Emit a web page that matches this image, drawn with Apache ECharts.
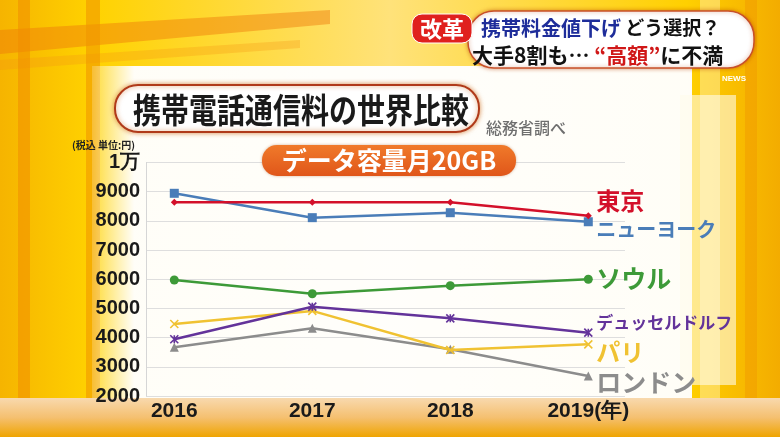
<!DOCTYPE html>
<html><head><meta charset="utf-8">
<script src="https://cdn.jsdelivr.net/npm/echarts@6/dist/echarts.min.js"></script>
<style>html,body{margin:0;padding:0;background:#f9c80e}#c{width:780px;height:437px}</style>
</head><body><div id="c"></div>
<script>
// ---- data ----
const years = [2016, 2017, 2018, 2019];
const cities = ['東京', 'ニューヨーク', 'ソウル', 'デュッセルドルフ', 'パリ', 'ロンドン'];
const tokyo = [8640, 8640, 8640, 8175];
const newYork = [8945, 8110, 8280, 7970];
const seoul = [5975, 5505, 5780, 6000];
const dusseldorf = [3945, 5060, 4660, 4170];
const paris = [4465, 4915, 3575, 3770];
const london = [3670, 4320, 3600, 2685];
const yTickLabels = {10000: '1万'};
const xLastLabel = '2019(年)';

const JP = '"Noto Sans CJK JP", "Noto Sans", sans-serif';
const NUM = '"Liberation Sans", Arial, sans-serif';

const styles = [
  {color: '#d3102a', symbol: 'diamond', size: 7, dy: -15, fs: 24},
  {color: '#4a7db8', symbol: 'rect', size: 9, dy: 8, fs: 20},
  {color: '#3d9a38', symbol: 'circle', size: 9, dy: -1, fs: 25},
  {color: '#63339a', symbol: 'path://M0,0L10,10M10,0L0,10M5,0L5,10', size: 8, dy: -10, fs: 17},
  {color: '#f0c232', symbol: 'path://M0,0L10,10M10,0L0,10', size: 8, dy: 8, fs: 24},
  {color: '#8c8c8c', symbol: 'triangle', size: 9, dy: 6, fs: 25}
];
const values = [tokyo, newYork, seoul, dusseldorf, paris, london];

const series = values.map((vals, k) => {
  const s = styles[k];
  return {
    name: cities[k], type: 'line', z: 10 - k,
    data: years.map((y, i) => [y, vals[i]]),
    symbol: s.symbol, symbolSize: s.size,
    lineStyle: {color: s.color, width: 2.5},
    itemStyle: {color: s.color, borderColor: s.color, borderWidth: s.symbol.startsWith('path') ? 1.6 : 0},
    endLabel: {show: true, formatter: '{a}', color: s.color, fontFamily: JP, fontWeight: 'bold',
      fontSize: s.fs, distance: 8, offset: [0, s.dy]},
    animation: false
  };
});

const chart = echarts.init(document.getElementById('c'), null, {renderer: 'canvas'});
chart.setOption({
  backgroundColor: 'transparent',
  animation: false,
  grid: {left: 146, right: 155, top: 162.5, bottom: 41},
  xAxis: {
    type: 'value', min: 2015.795, max: 2019.266,
    axisLine: {show: false}, axisTick: {show: false}, splitLine: {show: false},
    axisLabel: {customValues: years, margin: 5, color: '#1a1a1a', fontFamily: NUM, fontWeight: 'bold', fontSize: 21,
      formatter: v => v === 2019 ? xLastLabel : String(v)}
  },
  yAxis: {
    type: 'value', min: 2000, max: 10000, interval: 1000,
    axisLine: {show: true, lineStyle: {color: '#d6d6d6'}}, axisTick: {show: false},
    splitLine: {lineStyle: {color: '#dedede', width: 1}},
    axisLabel: {margin: 6, color: '#1a1a1a', fontFamily: NUM, fontWeight: 'bold', fontSize: 20,
      formatter: v => yTickLabels[v] || String(v)}
  },
  series: series,
  graphic: [
    // background
    {type: 'rect', z: -20, shape: {x: 0, y: 0, width: 780, height: 437},
      style: {fill: new echarts.graphic.LinearGradient(0, 0, 1, 0, [
        {offset: 0, color: '#f6b400'}, {offset: 0.12, color: '#ffd200'}, {offset: 0.5, color: '#ffe27a'},
        {offset: 0.88, color: '#ffd000'}, {offset: 1, color: '#f3ac00'}])}},
    {type: 'polygon', z: -19, shape: {points: [[0, 30], [330, 10], [330, 24], [0, 54]]}, style: {fill: 'rgba(238,120,10,0.45)'}},
    {type: 'polygon', z: -19, shape: {points: [[0, 60], [300, 40], [300, 48], [0, 70]]}, style: {fill: 'rgba(245,150,20,0.3)'}},
    {type: 'rect', z: -19, shape: {x: 18, y: 0, width: 12, height: 437}, style: {fill: 'rgba(240,140,0,0.55)'}},
    {type: 'rect', z: -19, shape: {x: 86, y: 0, width: 14, height: 437}, style: {fill: 'rgba(240,150,0,0.6)'}},
    {type: 'rect', z: -19, shape: {x: 700, y: 0, width: 20, height: 437}, style: {fill: 'rgba(255,240,170,0.5)'}},
    {type: 'rect', z: -19, shape: {x: 745, y: 0, width: 12, height: 437}, style: {fill: 'rgba(240,150,0,0.45)'}},
    // panel
    {type: 'rect', z: -18, shape: {x: 92, y: 66, width: 600, height: 334},
      style: {fill: new echarts.graphic.LinearGradient(0, 0, 1, 0, [
        {offset: 0, color: 'rgba(255,255,255,0.2)'}, {offset: 0.07, color: 'rgba(255,255,255,0.97)'},
        {offset: 1, color: 'rgba(255,255,255,0.97)'}])}},
    {type: 'rect', z: -18, shape: {x: 680, y: 95, width: 56, height: 290}, style: {fill: 'rgba(255,252,235,0.6)'}},
    {type: 'rect', z: -17, shape: {x: 0, y: 398, width: 780, height: 39},
      style: {fill: new echarts.graphic.LinearGradient(0, 0, 0, 1, [
        {offset: 0, color: '#f8d9ae'}, {offset: 0.5, color: '#f5c070'}, {offset: 1, color: '#efa400'}])}},
    // header caption
    {type: 'rect', z: 50, shape: {x: 468, y: 11, width: 286, height: 57, r: 26},
      style: {fill: '#ffffff', stroke: '#c8502a', lineWidth: 1.5, shadowBlur: 4, shadowColor: 'rgba(180,60,0,0.5)'}},
    {type: 'rect', z: 51, shape: {x: 412, y: 14, width: 60, height: 29, r: 10},
      style: {fill: '#e0201e', stroke: '#ffffff', lineWidth: 1}},
    {type: 'text', z: 52, style: {x: 442, y: 29, text: '改革', fill: '#fff', font: 'bold 22px ' + JP, align: 'center', verticalAlign: 'middle'}},
    {type: 'text', z: 52, style: {x: 481, y: 28, align: 'left', verticalAlign: 'middle',
      text: '{b|携帯料金値下げ}{k| どう選択？}',
      rich: {b: {fill: '#1e2d9a', font: 'bold 20px ' + JP}, k: {fill: '#111', font: 'bold 19px ' + JP}}}},
    {type: 'text', z: 52, style: {x: 472, y: 55, align: 'left', verticalAlign: 'middle',
      text: '{k|大手8割も… }{r|“高額”}{k|に不満}',
      rich: {r: {fill: '#d01818', font: 'bold 21px ' + JP}, k: {fill: '#111', font: 'bold 21px ' + JP}}}},
    {type: 'text', z: 52, style: {x: 734, y: 79, text: 'NEWS', fill: '#fff', font: 'bold 8px ' + NUM, align: 'center', verticalAlign: 'middle'}},
    // title
    {type: 'rect', z: 50, shape: {x: 115, y: 85, width: 364, height: 47, r: 23},
      style: {fill: '#ffffff', stroke: '#b03a1a', lineWidth: 2, shadowBlur: 5, shadowColor: 'rgba(200,90,0,0.6)'}},
    {type: 'text', z: 52, x: 301, y: 110, scaleY: 1.22, style: {x: 0, y: 0, text: '携帯電話通信料の世界比較', fill: '#1a1a1a',
      font: 'bold 28px ' + JP, align: 'center', verticalAlign: 'middle'}},
    {type: 'text', z: 52, style: {x: 486, y: 128, text: '総務省調べ', fill: '#6e6e6e', font: '500 16px ' + JP, align: 'left', verticalAlign: 'middle'}},
    // subtitle pill
    {type: 'rect', z: 50, shape: {x: 262, y: 145, width: 254, height: 31, r: 15},
      style: {fill: new echarts.graphic.LinearGradient(0, 0, 0, 1, [
        {offset: 0, color: '#f07a2a'}, {offset: 1, color: '#e0561a'}]), shadowBlur: 3, shadowColor: 'rgba(150,60,0,0.4)'}},
    {type: 'text', z: 52, style: {x: 389, y: 160, text: 'データ容量月20GB', fill: '#fff', font: 'bold 25px ' + JP, align: 'center', verticalAlign: 'middle'}},
    // unit
    {type: 'text', z: 52, style: {x: 72, y: 145, text: '(税込 単位:円)', fill: '#222', font: 'bold 10px ' + JP, align: 'left', verticalAlign: 'middle'}}
  ]
});
</script></body></html>
